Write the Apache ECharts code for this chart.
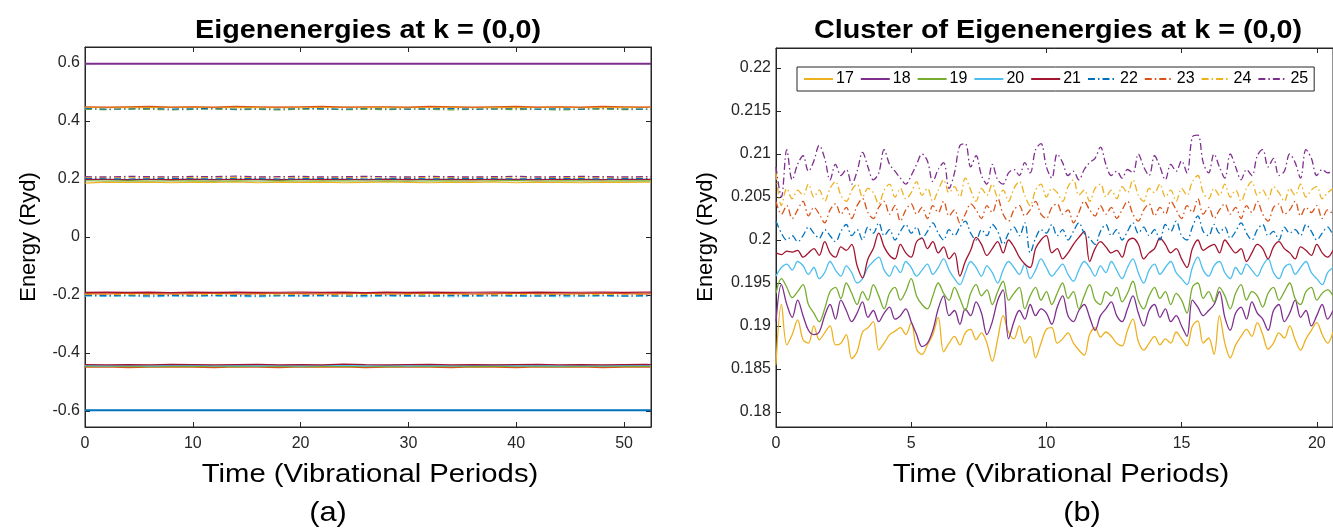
<!DOCTYPE html>
<html><head><meta charset="utf-8">
<script src="https://cdn.jsdelivr.net/npm/echarts@6/dist/echarts.min.js"></script>
<style>html,body{margin:0;padding:0;background:#fff}#c{width:1333px;height:531px}</style>
</head><body><div id="c"></div>
<script>
// ---------- Panel (a): time axis (vibrational periods) ----------
const LEFT_TIME = [0,2,4,6,8,10,12,14,16,18,20,22,24,26,28,30,32,34,36,38,40,42,44,46,48,50,52,52.5];
const LEFT_TICKS_X = [0,10,20,30,40,50];
const LEFT_TICKS_Y = [-0.6,-0.4,-0.2,0,0.2,0.4,0.6];

// Panel (a) eigenenergies (Ryd)
const A_TOP_PURPLE = [0.597,0.597,0.597,0.597,0.597,0.597,0.597, 0.597,0.597,0.597,0.597,0.597,0.597,0.597, 0.597,0.597,0.597,0.597,0.597,0.597,0.597, 0.597,0.597,0.597,0.597,0.597,0.597,0.597];
const A_P44_ORANGE = [0.449,0.448,0.449,0.450,0.448,0.449,0.448, 0.450,0.449,0.448,0.449,0.450,0.448,0.449, 0.449,0.448,0.450,0.449,0.448,0.449,0.450, 0.448,0.449,0.448,0.450,0.449,0.448,0.449];
const A_P44_YELLOW = [0.447,0.446,0.447,0.446,0.447,0.448,0.446, 0.447,0.446,0.447,0.446,0.448,0.447,0.446, 0.447,0.446,0.447,0.448,0.446,0.447,0.446, 0.447,0.448,0.446,0.447,0.446,0.447,0.447];
const A_P44_BLUE_DD = [0.443,0.441,0.442,0.443,0.441,0.442,0.443, 0.441,0.442,0.441,0.443,0.442,0.441,0.443, 0.442,0.441,0.442,0.443,0.441,0.442,0.443, 0.441,0.442,0.441,0.443,0.442,0.441,0.442];
const A_P44_GREEN_DD = [0.440,0.439,0.441,0.440,0.438,0.440,0.441, 0.439,0.440,0.438,0.440,0.441,0.439,0.440, 0.439,0.441,0.440,0.438,0.440,0.441,0.439, 0.440,0.438,0.440,0.441,0.439,0.440,0.440];
const A_P20_PURPLE_DD = [0.208,0.207,0.209,0.208,0.207,0.209,0.208, 0.210,0.207,0.208,0.209,0.207,0.208,0.209, 0.208,0.207,0.209,0.208,0.207,0.208,0.209, 0.207,0.208,0.209,0.208,0.207,0.208,0.208];
const A_P20_YELLOW_DD = [0.206,0.205,0.206,0.205,0.207,0.205,0.206, 0.205,0.206,0.207,0.205,0.206,0.205,0.206, 0.207,0.205,0.206,0.205,0.206,0.205,0.207, 0.206,0.205,0.206,0.205,0.206,0.207,0.206];
const A_P20_BLUE_DD = [0.202,0.201,0.200,0.201,0.202,0.201,0.200, 0.202,0.201,0.200,0.201,0.202,0.201,0.200, 0.201,0.202,0.200,0.201,0.202,0.201,0.200, 0.201,0.202,0.201,0.200,0.201,0.201,0.201];
const A_P20_RED = [0.1985,0.199,0.198,0.199,0.198,0.1995,0.198, 0.199,0.1985,0.198,0.199,0.1985,0.199,0.198, 0.1995,0.198,0.199,0.1985,0.198,0.199,0.1985, 0.198,0.199,0.1985,0.198,0.199,0.1985,0.1985];
const A_P20_GREEN = [0.194,0.193,0.1945,0.193,0.194,0.1935,0.1925, 0.194,0.193,0.1945,0.193,0.194,0.1935,0.193, 0.194,0.1925,0.194,0.1935,0.193,0.194,0.1945, 0.193,0.194,0.1935,0.193,0.194,0.1935,0.1935];
const A_P20_YELLOW = [0.1855,0.189,0.188,0.189,0.187,0.189,0.188, 0.190,0.187,0.189,0.188,0.189,0.187,0.188, 0.190,0.188,0.187,0.189,0.188,0.190,0.187, 0.189,0.188,0.187,0.189,0.188,0.189,0.189];
const A_M20_RED = [-0.191,-0.190,-0.191,-0.190,-0.1915,-0.190,-0.191, -0.190,-0.191,-0.1905,-0.190,-0.191,-0.190,-0.1915, -0.190,-0.191,-0.190,-0.191,-0.1905,-0.190,-0.191, -0.190,-0.191,-0.1905,-0.190,-0.191,-0.190,-0.190];
const A_M20_ORANGE = [-0.195,-0.196,-0.194,-0.195,-0.196,-0.195,-0.194, -0.196,-0.195,-0.194,-0.195,-0.196,-0.195,-0.194, -0.196,-0.195,-0.194,-0.195,-0.196,-0.195,-0.194, -0.195,-0.196,-0.195,-0.194,-0.195,-0.196,-0.195];
const A_M20_YELLOW_DD = [-0.198,-0.197,-0.199,-0.198,-0.197,-0.199,-0.198, -0.197,-0.198,-0.199,-0.197,-0.198,-0.199,-0.198, -0.197,-0.198,-0.199,-0.197,-0.198,-0.199,-0.198, -0.197,-0.198,-0.199,-0.198,-0.197,-0.198,-0.198];
const A_M20_BLUE_DD = [-0.201,-0.202,-0.201,-0.203,-0.201,-0.202,-0.201, -0.202,-0.203,-0.201,-0.202,-0.201,-0.203,-0.202, -0.201,-0.202,-0.203,-0.201,-0.202,-0.201,-0.202, -0.203,-0.201,-0.202,-0.201,-0.203,-0.202,-0.202];
const A_M20_LIGHTBLUE = [-0.204,-0.205,-0.204,-0.206,-0.204,-0.205,-0.204, -0.205,-0.206,-0.204,-0.205,-0.204,-0.205,-0.206, -0.204,-0.205,-0.204,-0.206,-0.205,-0.204,-0.205, -0.204,-0.206,-0.205,-0.204,-0.205,-0.204,-0.205];
const A_M44_RED = [-0.440,-0.441,-0.440,-0.441,-0.439,-0.440,-0.441, -0.440,-0.439,-0.441,-0.440,-0.441,-0.438,-0.440, -0.441,-0.440,-0.439,-0.441,-0.440,-0.441,-0.440, -0.439,-0.441,-0.440,-0.441,-0.440,-0.439,-0.440];
const A_M44_LIGHTBLUE = [-0.443,-0.444,-0.443,-0.444,-0.443,-0.442,-0.444, -0.443,-0.444,-0.443,-0.444,-0.443,-0.442,-0.444, -0.443,-0.444,-0.443,-0.444,-0.443,-0.442,-0.444, -0.443,-0.444,-0.443,-0.444,-0.443,-0.443,-0.443];
const A_M44_GREEN = [-0.446,-0.445,-0.446,-0.447,-0.446,-0.445,-0.446, -0.447,-0.445,-0.446,-0.447,-0.446,-0.445,-0.446, -0.447,-0.446,-0.445,-0.446,-0.447,-0.446,-0.445, -0.446,-0.447,-0.446,-0.445,-0.446,-0.446,-0.446];
const A_M44_ORANGE = [-0.449,-0.448,-0.450,-0.449,-0.448,-0.449,-0.450, -0.448,-0.449,-0.450,-0.448,-0.449,-0.448,-0.450, -0.449,-0.448,-0.449,-0.450,-0.448,-0.449,-0.450, -0.448,-0.449,-0.448,-0.450,-0.449,-0.448,-0.449];
const A_BOTTOM_BLUE = [-0.597,-0.597,-0.597,-0.597,-0.597,-0.597,-0.597, -0.597,-0.597,-0.597,-0.597,-0.597,-0.597,-0.597, -0.597,-0.597,-0.597,-0.597,-0.597,-0.597,-0.597, -0.597,-0.597,-0.597,-0.597,-0.597,-0.597,-0.597];

// ---------- Panel (b): cluster of eigenenergies 17..25 ----------
const RIGHT_TIME = [
 0,0.2,0.4,0.6,0.8,1,1.2,1.4,1.6,1.8,
 2,2.2,2.4,2.6,2.8,3,3.2,3.4,3.6,3.8,
 4,4.2,4.4,4.6,4.8,5,5.2,5.4,5.6,5.8,
 6,6.2,6.4,6.6,6.8,7,7.2,7.4,7.6,7.8,
 8,8.2,8.4,8.6,8.8,9,9.2,9.4,9.6,9.8,
 10,10.2,10.4,10.6,10.8,11,11.2,11.4,11.6,11.8,
 12,12.2,12.4,12.6,12.8,13,13.2,13.4,13.6,13.8,
 14,14.2,14.4,14.6,14.8,15,15.2,15.4,15.6,15.8,
 16,16.2,16.4,16.6,16.8,17,17.2,17.4,17.6,17.8,
 18,18.2,18.4,18.6,18.8,19,19.2,19.4,19.6,19.8,
 20,20.2,20.4,20.6];
const RIGHT_TICKS_X = [0,5,10,15,20];
const RIGHT_TICKS_Y = [0.18,0.185,0.19,0.195,0.2,0.205,0.21,0.215,0.22];
const LEGEND_NAMES = ['17','18','19','20','21','22','23','24','25'];

const E17 = [
 0.1855,0.1925,0.1878,0.1890,0.1907,0.1884,0.1880,0.1900,0.1884,0.1892,
 0.1900,0.1878,0.1880,0.1890,0.1862,0.1870,0.1893,0.1898,0.1905,0.1872,
 0.1880,0.1890,0.1894,0.1898,0.1890,0.1904,0.1873,0.1867,0.1878,0.1890,
 0.1910,0.1870,0.1880,0.1888,0.1878,0.1892,0.1896,0.1884,0.1892,0.1880,
 0.1859,0.1885,0.1912,0.1893,0.1885,0.1900,0.1880,0.1888,0.1863,0.1880,
 0.1896,0.1898,0.1880,0.1885,0.1892,0.1880,0.1872,0.1866,0.1890,0.1898,
 0.1887,0.1893,0.1888,0.1880,0.1877,0.1895,0.1908,0.1882,0.1872,0.1880,
 0.1888,0.1878,0.1885,0.1880,0.1893,0.1885,0.1877,0.1900,0.1906,0.1880,
 0.1886,0.1867,0.1912,0.1880,0.1863,0.1878,0.1888,0.1896,0.1888,0.1904,
 0.1890,0.1873,0.1880,0.1892,0.1886,0.1900,0.1884,0.1872,0.1885,0.1895,
 0.1904,0.1890,0.1880,0.1893];
const E18 = [
 0.1905,0.1948,0.1925,0.1910,0.1930,0.1912,0.1895,0.1890,0.1893,0.1912,
 0.1925,0.1908,0.1930,0.1918,0.1905,0.1915,0.1928,0.1910,0.1918,0.1905,
 0.1915,0.1922,0.1908,0.1912,0.1920,0.1905,0.1890,0.1876,0.1880,0.1895,
 0.1920,0.1935,0.1912,0.1918,0.1902,0.1920,0.1912,0.1928,0.1915,0.1890,
 0.1905,0.1930,0.1942,0.1885,0.1905,0.1918,0.1908,0.1925,0.1912,0.1920,
 0.1915,0.1902,0.1922,0.1935,0.1912,0.1905,0.1918,0.1925,0.1910,0.1895,
 0.1912,0.1920,0.1928,0.1912,0.1905,0.1920,0.1935,0.1915,0.1900,0.1918,
 0.1925,0.1910,0.1920,0.1905,0.1912,0.1900,0.1888,0.1930,0.1922,0.1912,
 0.1918,0.1925,0.1940,0.1910,0.1895,0.1915,0.1922,0.1908,0.1928,0.1915,
 0.1908,0.1895,0.1918,0.1925,0.1905,0.1915,0.1930,0.1910,0.1918,0.1900,
 0.1912,0.1925,0.1908,0.1918];
const E19 = [
 0.1938,0.1955,0.1945,0.1933,0.1940,0.1948,0.1925,0.1915,0.1905,0.1920,
 0.1940,0.1945,0.1932,0.1950,0.1938,0.1925,0.1940,0.1930,0.1948,0.1935,
 0.1920,0.1938,0.1945,0.1930,0.1940,0.1955,0.1935,0.1925,0.1920,0.1935,
 0.1950,0.1938,0.1930,0.1945,0.1932,0.1918,0.1938,0.1948,0.1935,0.1942,
 0.1925,0.1940,0.1952,0.1930,0.1938,0.1945,0.1920,0.1935,0.1945,0.1930,
 0.1940,0.1925,0.1938,0.1950,0.1932,0.1940,0.1920,0.1935,0.1948,0.1930,
 0.1925,0.1940,0.1935,0.1945,0.1928,0.1938,0.1952,0.1930,0.1920,0.1935,
 0.1945,0.1932,0.1940,0.1925,0.1938,0.1930,0.1915,0.1945,0.1950,0.1932,
 0.1940,0.1928,0.1945,0.1935,0.1920,0.1938,0.1948,0.1930,0.1940,0.1935,
 0.1922,0.1938,0.1945,0.1930,0.1940,0.1950,0.1932,0.1925,0.1940,0.1945,
 0.1930,0.1938,0.1942,0.1935];
const E20 = [
 0.1958,0.1968,0.1972,0.1965,0.1975,0.1970,0.1960,0.1968,0.1955,0.1962,
 0.1975,0.1965,0.1958,0.1970,0.1962,0.1950,0.1955,0.1968,0.1975,0.1980,
 0.1965,0.1958,0.1970,0.1962,0.1975,0.1968,0.1958,0.1965,0.1972,0.1960,
 0.1968,0.1978,0.1965,0.1955,0.1948,0.1962,0.1975,0.1968,0.1958,0.1970,
 0.1962,0.1950,0.1965,0.1975,0.1968,0.1960,0.1972,0.1955,0.1965,0.1978,
 0.1968,0.1958,0.1965,0.1972,0.1960,0.1952,0.1965,0.1975,0.1968,0.1958,
 0.1970,0.1962,0.1975,0.1965,0.1955,0.1968,0.1978,0.1962,0.1950,0.1965,
 0.1972,0.1960,0.1968,0.1975,0.1962,0.1955,0.1948,0.1968,0.1980,0.1965,
 0.1958,0.1970,0.1975,0.1962,0.1955,0.1968,0.1960,0.1972,0.1965,0.1958,
 0.1970,0.1978,0.1962,0.1955,0.1968,0.1972,0.1960,0.1968,0.1975,0.1962,
 0.1955,0.1948,0.1962,0.1968];
const E21 = [
 0.1985,0.1983,0.1987,0.1986,0.1988,0.1980,0.1985,0.1990,0.1982,0.1998,
 0.1985,0.1980,0.1992,0.1988,0.1995,0.1970,0.1956,0.1978,0.1990,0.2008,
 0.1992,0.1982,0.1978,0.1995,0.1985,0.1980,0.1998,0.2002,0.1990,0.1998,
 0.1985,0.1992,0.1978,0.1985,0.1958,0.1975,0.1988,0.2003,0.1995,0.1982,
 0.1990,0.1998,0.1985,0.2000,0.1992,0.1980,0.1972,0.1968,0.1990,0.2000,
 0.2005,0.1985,0.1990,0.1978,0.1985,0.1995,0.2003,0.2010,0.1975,0.1990,
 0.1998,0.1992,0.1985,0.1988,0.1980,0.1998,0.2002,0.1995,0.1978,0.1985,
 0.1990,0.2002,0.1995,0.1985,0.1990,0.1978,0.1968,0.1990,0.2000,0.1988,
 0.1992,0.1995,0.1985,0.2000,0.1992,0.1985,0.1990,0.1975,0.1985,0.1995,
 0.1990,0.1978,0.1992,0.1998,0.1990,0.1985,0.1978,0.1992,0.1988,0.1982,
 0.1995,0.1985,0.1980,0.1988];
const E22 = [
 0.2022,0.2008,0.2000,0.2005,0.1998,0.2005,0.2015,0.2008,0.2002,0.2012,
 0.2005,0.1998,0.2010,0.2018,0.2005,0.2012,0.2000,0.2015,0.2008,0.2020,
 0.2005,0.2012,0.2000,0.2010,0.2018,0.2008,0.2015,0.2002,0.2010,0.2020,
 0.2008,0.2000,0.2012,0.2005,0.2015,0.2022,0.2008,0.2000,0.2012,0.2005,
 0.2018,0.2010,0.1995,0.2008,0.2015,0.2005,0.2020,0.1985,0.2002,0.2012,
 0.2008,0.2018,0.2005,0.2012,0.2000,0.2010,0.2020,0.2008,0.2002,0.1995,
 0.2010,0.2018,0.2005,0.2012,0.2000,0.2010,0.2020,0.2008,0.2015,0.2005,
 0.2012,0.2000,0.2018,0.2010,0.2022,0.2005,0.2000,0.2015,0.2028,0.2010,
 0.2005,0.2018,0.2008,0.2015,0.2002,0.2010,0.2020,0.2008,0.2000,0.2012,
 0.2018,0.2005,0.2010,0.2000,0.2015,0.2008,0.2012,0.2005,0.2018,0.2010,
 0.2000,0.2008,0.2015,0.2005];
const E23 = [
 0.2045,0.2030,0.2040,0.2025,0.2035,0.2045,0.2028,0.2038,0.2030,0.2020,
 0.2035,0.2042,0.2030,0.2038,0.2025,0.2040,0.2048,0.2032,0.2025,0.2038,
 0.2045,0.2030,0.2040,0.2022,0.2035,0.2042,0.2030,0.2038,0.2025,0.2040,
 0.2032,0.2045,0.2028,0.2035,0.2020,0.2030,0.2042,0.2035,0.2025,0.2040,
 0.2032,0.2048,0.2030,0.2022,0.2035,0.2040,0.2028,0.2035,0.2045,0.2030,
 0.2025,0.2038,0.2042,0.2030,0.2035,0.2020,0.2032,0.2045,0.2035,0.2028,
 0.2040,0.2030,0.2038,0.2025,0.2035,0.2045,0.2030,0.2022,0.2035,0.2042,
 0.2028,0.2038,0.2030,0.2045,0.2035,0.2025,0.2040,0.2032,0.2048,0.2030,
 0.2038,0.2025,0.2035,0.2042,0.2030,0.2038,0.2025,0.2040,0.2032,0.2045,
 0.2030,0.2022,0.2038,0.2042,0.2030,0.2035,0.2045,0.2028,0.2038,0.2032,
 0.2040,0.2025,0.2035,0.2030];
const E24 = [
 0.2078,0.2040,0.2060,0.2048,0.2058,0.2052,0.2065,0.2050,0.2058,0.2045,
 0.2060,0.2068,0.2052,0.2045,0.2058,0.2065,0.2050,0.2060,0.2055,0.2042,
 0.2058,0.2065,0.2050,0.2060,0.2048,0.2055,0.2068,0.2052,0.2060,0.2045,
 0.2058,0.2070,0.2055,0.2062,0.2050,0.2072,0.2058,0.2045,0.2060,0.2052,
 0.2065,0.2050,0.2058,0.2045,0.2060,0.2068,0.2052,0.2040,0.2058,0.2065,
 0.2050,0.2060,0.2055,0.2045,0.2062,0.2070,0.2052,0.2058,0.2045,0.2060,
 0.2065,0.2050,0.2058,0.2048,0.2062,0.2055,0.2070,0.2052,0.2045,0.2060,
 0.2055,0.2065,0.2050,0.2058,0.2045,0.2060,0.2052,0.2068,0.2075,0.2055,
 0.2048,0.2060,0.2052,0.2065,0.2050,0.2058,0.2045,0.2060,0.2068,0.2052,
 0.2058,0.2048,0.2062,0.2055,0.2045,0.2060,0.2052,0.2065,0.2050,0.2058,
 0.2062,0.2048,0.2055,0.2060];
const E25 = [
 0.2085,0.2050,0.2105,0.2070,0.2088,0.2098,0.2080,0.2092,0.2110,0.2095,
 0.2070,0.2088,0.2075,0.2082,0.2065,0.2080,0.2102,0.2085,0.2070,0.2078,
 0.2105,0.2088,0.2080,0.2072,0.2065,0.2075,0.2088,0.2100,0.2092,0.2068,
 0.2082,0.2090,0.2060,0.2078,0.2110,0.2112,0.2085,0.2098,0.2075,0.2065,
 0.2088,0.2070,0.2065,0.2078,0.2082,0.2075,0.2090,0.2078,0.2105,0.2112,
 0.2085,0.2072,0.2100,0.2090,0.2075,0.2080,0.2070,0.2082,0.2090,0.2095,
 0.2108,0.2088,0.2075,0.2080,0.2072,0.2082,0.2078,0.2100,0.2085,0.2075,
 0.2098,0.2085,0.2070,0.2088,0.2080,0.2092,0.2078,0.2120,0.2122,0.2090,
 0.2078,0.2100,0.2085,0.2072,0.2100,0.2085,0.2070,0.2082,0.2075,0.2098,
 0.2105,0.2085,0.2095,0.2075,0.2080,0.2100,0.2090,0.2072,0.2105,0.2095,
 0.2075,0.2082,0.2078,0.2080];

// ---------- styling ----------
const FONT = '"Liberation Sans", Arial, Helvetica, sans-serif';
const INK = '#262626';
const COL = {blue:'#0072BD', orange:'#D95319', yellow:'#EDB120', purple:'#7E2F8E', green:'#77AC30', lightblue:'#4DBEEE', red:'#A2142F'};
const DASHDOT = [7, 3, 1.5, 3];

const leftDefs = [
  [A_TOP_PURPLE, COL.purple, false, 2],
  [A_P44_GREEN_DD, COL.green, true, 1.2],
  [A_P44_BLUE_DD, COL.blue, true, 1.2],
  [A_P44_YELLOW, COL.yellow, false, 1.2],
  [A_P44_ORANGE, COL.orange, false, 1.2],
  [A_P20_YELLOW, COL.yellow, false, 1.2],
  [A_P20_GREEN, COL.green, false, 1.2],
  [A_P20_RED, COL.red, false, 1.2],
  [A_P20_BLUE_DD, COL.blue, true, 1.2],
  [A_P20_YELLOW_DD, COL.yellow, true, 1.2],
  [A_P20_PURPLE_DD, COL.purple, true, 1.2],
  [A_M20_LIGHTBLUE, COL.lightblue, true, 1.2],
  [A_M20_BLUE_DD, COL.blue, true, 1.2],
  [A_M20_YELLOW_DD, COL.yellow, true, 1.2],
  [A_M20_ORANGE, COL.orange, false, 1.2],
  [A_M20_RED, COL.red, false, 1.2],
  [A_M44_ORANGE, COL.orange, false, 1.2],
  [A_M44_GREEN, COL.green, false, 1.2],
  [A_M44_LIGHTBLUE, COL.lightblue, false, 1.2],
  [A_M44_RED, COL.red, false, 1.2],
  [A_BOTTOM_BLUE, COL.blue, false, 2]
];
const rightDefs = [
  [E17, COL.yellow, false], [E18, COL.purple, false], [E19, COL.green, false],
  [E20, COL.lightblue, false], [E21, COL.red, false], [E22, COL.blue, true],
  [E23, COL.orange, true], [E24, COL.yellow, true], [E25, COL.purple, true]
];

function pairs(time, vals) { return vals.map((v, i) => [time[i], v]); }
function fmt(v) { return String(+v.toFixed(3)); }

const series = [];
leftDefs.forEach(d => series.push({
  type: 'line', xAxisIndex: 0, yAxisIndex: 0, symbol: 'none', silent: true,
  data: pairs(LEFT_TIME, d[0]),
  lineStyle: {color: d[1], width: d[3], type: d[2] ? DASHDOT : 'solid'},
  itemStyle: {color: d[1]}
}));
rightDefs.forEach((d, k) => series.push({
  type: 'line', name: LEGEND_NAMES[k], xAxisIndex: 1, yAxisIndex: 1, symbol: 'none', silent: true,
  smooth: 0.35,
  data: pairs(RIGHT_TIME, d[0]),
  lineStyle: {color: d[1], width: 1.3, type: d[2] ? DASHDOT : 'solid'},
  itemStyle: {color: d[1]}
}));

function xAx(grid, max, ticks, pos, labels) {
  return {
    type: 'value', gridIndex: grid, min: 0, max: max, position: pos,
    axisLine: {show: true, onZero: false, lineStyle: {color: INK, width: 1}},
    axisTick: {show: true, inside: true, length: 5, customValues: ticks, lineStyle: {color: INK}},
    axisLabel: {show: labels, customValues: ticks, fontFamily: FONT, fontSize: 16, color: INK, margin: 9, formatter: fmt},
    splitLine: {show: false}
  };
}
function yAx(grid, min, max, ticks, pos, labels) {
  return {
    type: 'value', gridIndex: grid, min: min, max: max, position: pos,
    axisLine: {show: true, onZero: false, lineStyle: {color: INK, width: 1}},
    axisTick: {show: true, inside: true, length: 5, customValues: ticks, lineStyle: {color: INK}},
    axisLabel: {show: labels, customValues: ticks, fontFamily: FONT, fontSize: 16, color: INK, margin: 5, formatter: fmt},
    splitLine: {show: false}
  };
}

const txt = (x, y, text, size, bold, rot, sx) => ({
  type: 'text', x: x, y: y, rotation: rot || 0, scaleX: sx || 1, silent: true,
  style: {text: text, fontFamily: FONT, fontSize: size, fontWeight: bold ? 'bold' : 'normal',
          fill: '#000', align: 'center', verticalAlign: 'middle'}
});

const option = {
  animation: false,
  backgroundColor: '#fff',
  grid: [
    {left: 85, top: 47, width: 566, height: 380, show: true, borderColor: INK, borderWidth: 1, backgroundColor: '#fff'},
    {left: 776, top: 48, width: 558, height: 379, show: true, borderColor: INK, borderWidth: 1, backgroundColor: '#fff'}
  ],
  xAxis: [
    xAx(0, 52.5, LEFT_TICKS_X, 'bottom', true),
    xAx(1, 20.6, RIGHT_TICKS_X, 'bottom', true),
    xAx(0, 52.5, LEFT_TICKS_X, 'top', false),
    xAx(1, 20.6, RIGHT_TICKS_X, 'top', false)
  ],
  yAxis: [
    yAx(0, -0.655, 0.655, LEFT_TICKS_Y, 'left', true),
    yAx(1, 0.17825, 0.22233, RIGHT_TICKS_Y, 'left', true),
    yAx(0, -0.655, 0.655, LEFT_TICKS_Y, 'right', false)
  ],
  legend: {
    data: LEGEND_NAMES, left: 797, top: 67, orient: 'horizontal',
    itemWidth: 29, itemHeight: 12, itemGap: 6, padding: [4, 6, 4, 6],
    borderColor: INK, borderWidth: 1, backgroundColor: '#fff',
    itemStyle: {opacity: 0, borderWidth: 0},
    textStyle: {fontFamily: FONT, fontSize: 16, color: '#000', padding: [0, 0, 0, -2]},
    selectedMode: false
  },
  graphic: [
    txt(368, 31, 'Eigenenergies at k = (0,0)', 25, true, 0, 1.15),
    txt(1058, 31, 'Cluster of Eigenenergies at k = (0,0)', 25, true, 0, 1.15),
    txt(29, 237, 'Energy (Ryd)', 22, false, Math.PI / 2),
    txt(706, 237, 'Energy (Ryd)', 22, false, Math.PI / 2),
    txt(370, 475, 'Time (Vibrational Periods)', 25, false, 0, 1.17),
    txt(1061, 475, 'Time (Vibrational Periods)', 25, false, 0, 1.17),
    txt(328, 513, '(a)', 28, false, 0, 1.1),
    txt(1082, 513, '(b)', 28, false, 0, 1.1)
  ],
  series: series
};

const chart = echarts.init(document.getElementById('c'), null, {renderer: 'canvas'});
chart.setOption(option);
</script>
</body></html>
